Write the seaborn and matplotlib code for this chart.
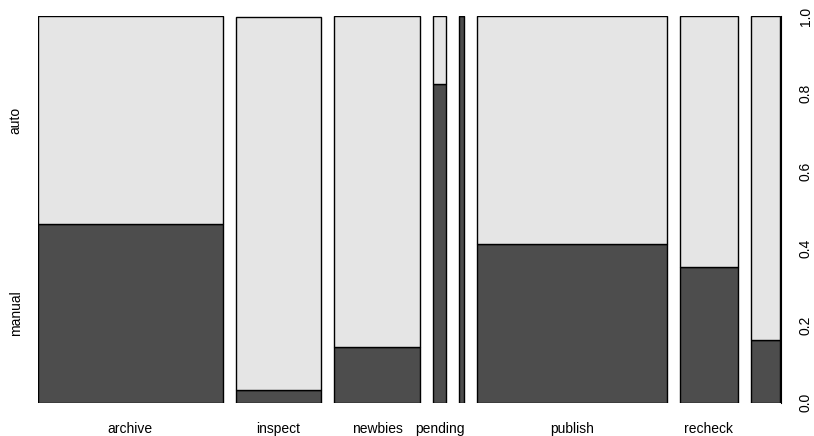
import numpy as np
import pandas as pd
import matplotlib
matplotlib.use("Agg")
import matplotlib.pyplot as plt
import seaborn as sns

# Spine plot of review mode by queue: bar width = share of items, fill = manual share
categories = ["archive", "inspect", "newbies", "pending", "preview", "publish", "recheck", "review"]
tick_labels = ["archive", "inspect", "newbies", "pending", "", "publish", "recheck", ""]
share = [0.2844, 0.1305, 0.1335, 0.0195, 0.0072, 0.2927, 0.0890, 0.0456]
manual_share = [0.462, 0.032, 0.144, 0.825, 1.0, 0.410, 0.352, 0.162]
levels = ["manual", "auto"]
level_colors = {"manual": "#4D4D4D", "auto": "#E5E5E5"}
y_ticks = [0.0, 0.2, 0.4, 0.6, 0.8, 1.0]

sns.set_style("white")
plt.rcParams["font.family"] = ["Liberation Sans", "DejaVu Sans"]
plt.rcParams.update({"text.color": "black", "xtick.color": "black",
                     "ytick.color": "black", "axes.labelcolor": "black"})

df = pd.DataFrame({"category": categories, "share": share, "manual": manual_share})
df["share"] = df["share"] / df["share"].sum()
df["auto"] = 1.0 - df["manual"]
gap = 0.02
df["left"] = df["share"].cumsum().shift(fill_value=0.0) + gap * np.arange(len(df))
df["center"] = df["left"] + df["share"] / 2

fig = plt.figure(figsize=(8.14, 4.36), dpi=100)
ax = fig.add_axes([38 / 814, (436 - 402.5) / 436, 742.5 / 814, 386 / 436])

bottom = np.zeros(len(df))
for lvl in levels:
    ax.bar(df["left"], df[lvl], width=df["share"], bottom=bottom, align="edge",
           color=level_colors[lvl], edgecolor="black", linewidth=1.0)
    bottom = bottom + df[lvl].to_numpy()

ax.set_xlim(0, 1 + gap * (len(df) - 1))
ax.set_ylim(0, 1)
sns.despine(ax=ax, left=True, bottom=True, top=True, right=True)

# category names under the bars
ax.set_xticks(df["center"], tick_labels, fontsize=10)
ax.tick_params(axis="x", length=0, pad=14)

# level names beside the first bar
first = df.iloc[0]
ax.set_yticks([first["manual"] / 2, first["manual"] + first["auto"] / 2], levels,
              rotation=90, va="center", fontsize=10)
ax.tick_params(axis="y", length=0, pad=11)

# proportion scale on the right
ax2 = ax.twinx()
ax2.set_ylim(0, 1)
ax2.set_yticks(y_ticks, [f"{v:.1f}" for v in y_ticks], rotation=90, va="center", fontsize=10)
ax2.tick_params(axis="y", right=True, length=7, width=0.8, color="black", pad=6)
sns.despine(ax=ax2, left=True, bottom=True, top=True, right=False)
ax2.spines["right"].set_color("black")
ax2.spines["right"].set_linewidth(0.8)

fig.savefig("out.png", dpi=100)
